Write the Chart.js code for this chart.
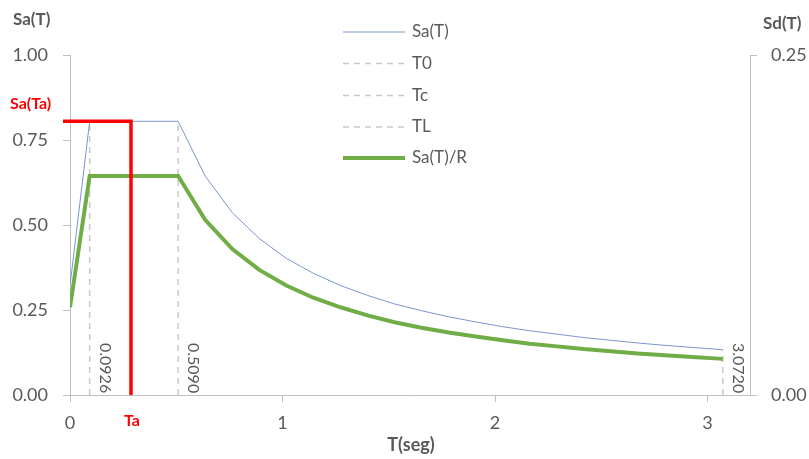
<!DOCTYPE html>
<html>
<head>
<meta charset="utf-8">
<script src="https://cdn.jsdelivr.net/npm/chart.js@4"></script>
<style>
html,body{margin:0;padding:0;background:#fff;}
#wrap{width:809px;height:459px;position:relative;}
</style>
</head>
<body>
<div id="wrap"><canvas id="c" width="809" height="459"></canvas></div>
<script>
// ---- data ----
const periods = [0, 0.0926, 0.509, 0.636, 0.764, 0.891, 1.018, 1.145, 1.273, 1.400, 1.527, 1.654, 1.782, 1.909, 2.036, 2.163, 2.291, 2.418, 2.545, 2.672, 2.800, 2.927, 3.054, 3.072];
const saValues = [0.322, 0.805, 0.805, 0.644, 0.536, 0.460, 0.402, 0.358, 0.322, 0.293, 0.268, 0.248, 0.230, 0.215, 0.201, 0.189, 0.179, 0.169, 0.161, 0.153, 0.146, 0.140, 0.134, 0.133];
const saRValues = [0.258, 0.644, 0.644, 0.515, 0.429, 0.368, 0.322, 0.286, 0.258, 0.234, 0.214, 0.198, 0.184, 0.172, 0.161, 0.151, 0.143, 0.135, 0.129, 0.122, 0.117, 0.112, 0.107, 0.106];
const t0 = 0.0926, tc = 0.5090, tL = 3.0720;
const saT0 = 0.805, saTc = 0.805, saTL = 0.133;
const ta = 0.287, saTa = 0.805;
const taLineStart = -0.033;
const xTicks = [0, 1, 2, 3];
const yTicks = [0, 0.25, 0.5, 0.75, 1.0];
const y2Ticks = [0, 0.25];
const seriesNames = ['Sa(T)', 'T0', 'Tc', 'TL', 'Sa(T)/R'];

const FONT = 'Lato, "Noto Sans", sans-serif';
const GRAY = '#595959';
const AXIS = '#bfbfbf';
const BLUE = '#7b95cf';
const GREEN = '#70ad47';
const DASH = '#c9c9c9';
const RED = '#ff0000';

const pts = (xs, ys) => xs.map((x, i) => ({x: x, y: ys[i]}));

const overlay = {
  id: 'overlay',
  afterDraw(chart) {
    const ctx = chart.ctx;
    const xs = chart.scales.x;
    ctx.save();
    // axis titles
    ctx.fillStyle = GRAY;
    ctx.font = 'bold 17px ' + FONT;
    ctx.textBaseline = 'middle';
    ctx.textAlign = 'left';
    ctx.fillText('Sa(T)', 13, 20);
    ctx.fillText('Sd(T)', 763, 24);
    ctx.font = 'bold 18px ' + FONT;
    ctx.textAlign = 'center';
    ctx.fillText('T(seg)', 411, 445);
    // red labels
    ctx.fillStyle = RED;
    ctx.font = 'bold 16px ' + FONT;
    ctx.textAlign = 'left';
    ctx.fillText('Sa(Ta)', 10, 104);
    ctx.textAlign = 'center';
    ctx.fillText('Ta', xs.getPixelForValue(ta) + 1, 421);
    // rotated vertical line labels
    ctx.fillStyle = GRAY;
    ctx.font = '16px ' + FONT;
    ctx.textAlign = 'left';
    [[t0, '0.0926'], [tc, '0.5090'], [tL, '3.0720']].forEach(([v, s]) => {
      const px = xs.getPixelForValue(v);
      ctx.save();
      ctx.translate(px + 15, 343);
      ctx.rotate(Math.PI / 2);
      ctx.fillText(s, 0, 0);
      ctx.restore();
    });
    // legend
    const rows = [32, 63.5, 95.5, 127, 158];
    const styles = [
      {c: BLUE, w: 1, d: []},
      {c: DASH, w: 1.5, d: [6, 5]},
      {c: DASH, w: 1.5, d: [6, 5]},
      {c: DASH, w: 1.5, d: [6, 5]},
      {c: GREEN, w: 4, d: []}
    ];
    ctx.font = '17px ' + FONT;
    ctx.textAlign = 'left';
    ctx.textBaseline = 'middle';
    rows.forEach((y, i) => {
      const st = styles[i];
      ctx.beginPath();
      ctx.strokeStyle = st.c;
      ctx.lineWidth = st.w;
      ctx.setLineDash(st.d);
      ctx.moveTo(343, y);
      ctx.lineTo(405, y);
      ctx.stroke();
      ctx.setLineDash([]);
      ctx.fillStyle = GRAY;
      ctx.fillText(seriesNames[i], 412, y);
    });
    ctx.restore();
  }
};

new Chart(document.getElementById('c'), {
  type: 'line',
  data: {
    datasets: [
      {label: 'T0', data: pts([t0, t0], [0, saT0]), borderColor: DASH, borderWidth: 1.5, borderDash: [6, 5], pointRadius: 0, order: 5},
      {label: 'Tc', data: pts([tc, tc], [0, saTc]), borderColor: DASH, borderWidth: 1.5, borderDash: [6, 5], pointRadius: 0, order: 5},
      {label: 'TL', data: pts([tL, tL], [0, saTL]), borderColor: DASH, borderWidth: 1.5, borderDash: [6, 5], pointRadius: 0, order: 5},
      {label: 'Sa(T)', data: pts(periods, saValues), borderColor: BLUE, borderWidth: 1, pointRadius: 0, order: 4},
      {label: 'Sa(T)/R', data: pts(periods, saRValues), borderColor: GREEN, borderWidth: 4, pointRadius: 0, order: 3},
      {label: 'Ta', data: pts([taLineStart, ta, ta], [saTa, saTa, 0]), borderColor: RED, borderWidth: 3.5, pointRadius: 0, clip: false, order: 1, borderJoinStyle: 'miter'}
    ]
  },
  options: {
    responsive: false,
    animation: false,
    layout: {padding: {left: 0, right: 0, top: 55, bottom: 0}},
    plugins: {legend: {display: false}, tooltip: {enabled: false}},
    elements: {line: {tension: 0}},
    scales: {
      x: {
        type: 'linear', min: 0, max: 3.2,
        afterBuildTicks: s => { s.ticks = xTicks.map(v => ({value: v})); },
        afterFit: s => { s.height = 64; },
        grid: {drawOnChartArea: false, drawTicks: true, tickLength: 7, color: AXIS},
        border: {color: AXIS, width: 1},
        ticks: {color: GRAY, font: {family: FONT, size: 18}, padding: 10, maxRotation: 0, callback: v => String(v)}
      },
      y: {
        type: 'linear', position: 'left', min: 0, max: 1,
        afterBuildTicks: s => { s.ticks = yTicks.map(v => ({value: v})); },
        afterFit: s => { s.width = 70; },
        grid: {drawOnChartArea: false, drawTicks: true, tickLength: 7, color: AXIS},
        border: {color: AXIS, width: 1},
        ticks: {color: GRAY, font: {family: FONT, size: 18}, padding: 15, callback: v => v.toFixed(2)}
      },
      y1: {
        type: 'linear', position: 'right', min: 0, max: 0.25,
        afterBuildTicks: s => { s.ticks = y2Ticks.map(v => ({value: v})); },
        afterFit: s => { s.width = 59; },
        grid: {drawOnChartArea: false, drawTicks: true, tickLength: 7, color: AXIS},
        border: {color: AXIS, width: 1},
        ticks: {color: GRAY, font: {family: FONT, size: 18}, padding: 14, callback: v => v.toFixed(2)}
      }
    }
  },
  plugins: [overlay]
});
</script>
</body>
</html>
